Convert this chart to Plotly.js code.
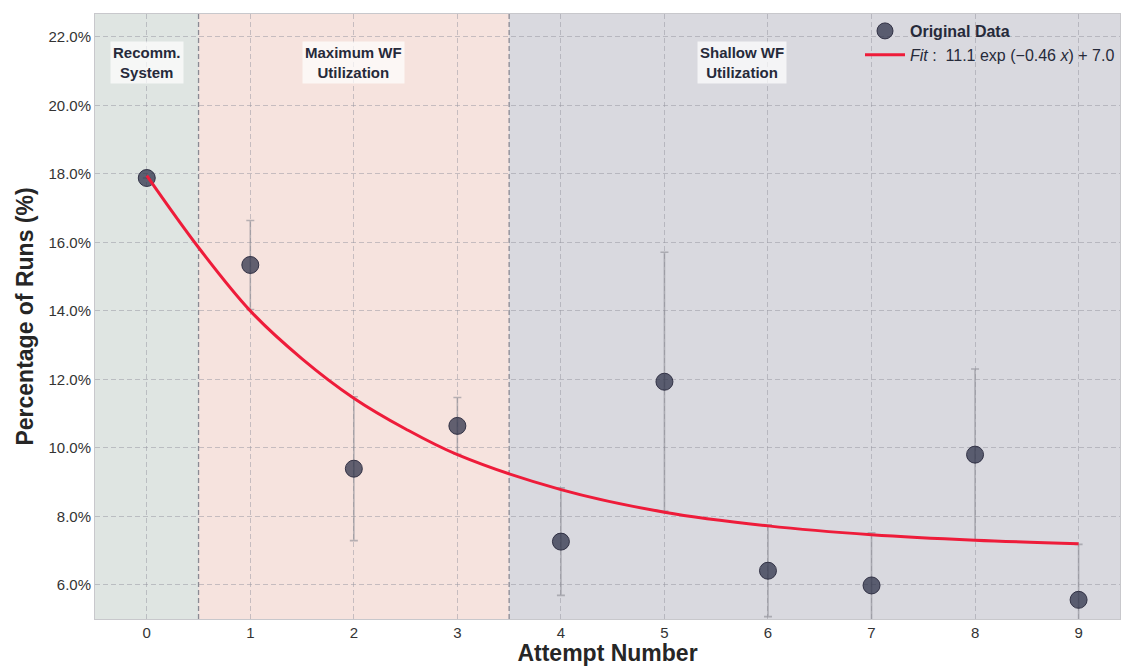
<!DOCTYPE html>
<html><head><meta charset="utf-8">
<script src="https://cdn.plot.ly/plotly-3.0.1.min.js"></script>
<style>body{margin:0;background:#fff}#c{width:1121px;height:666px}</style>
</head><body><div id="c"></div>
<script>
const attempts = [0,1,2,3,4,5,6,7,8,9];
const pct = [17.88,15.34,9.39,10.64,7.26,11.93,6.41,5.98,9.80,5.56];
const err = [0,1.30,2.10,0.83,1.57,3.78,1.34,1.54,2.50,1.62];
const fitX = [0,0.5,1,1.5,2,2.5,3,4,5,6,7,8,9];
const fitY = [17.95,15.85,14.0,12.6,11.45,10.55,9.8,8.78,8.12,7.72,7.46,7.3,7.2];
const phases = [
  {label:'Recomm.<br>System', x0:-0.5, x1:0.5, cx:0, color:'#dfe5e2'},
  {label:'Maximum WF<br>Utilization', x0:0.5, x1:3.5, cx:2, color:'#f6e3de'},
  {label:'Shallow WF<br>Utilization', x0:3.5, x1:9.45, cx:5.75, color:'#d9d9df'}
];
const boundaries = [0.5, 3.5];
const font = 'Liberation Sans, Arial, sans-serif';

const shapes = phases.map(p=>({type:'rect',xref:'x',yref:'paper',x0:p.x0,x1:p.x1,y0:0,y1:1,fillcolor:p.color,line:{width:0},layer:'below'}));
boundaries.forEach(b=>shapes.push({type:'line',xref:'x',yref:'paper',x0:b,x1:b,y0:0,y1:1,line:{color:'#8a8a94',width:1.3,dash:'5px,3px'},layer:'below'}));

const annotations = phases.map(p=>({x:p.cx,y:21.25,xref:'x',yref:'y',text:'<b>'+p.label+'</b>',showarrow:false,
  font:{family:font,size:15,color:'#262a3a'},bgcolor:'rgba(255,255,255,0.7)',borderpad:2,align:'center'}));

const data = [
  {x:attempts,y:pct,type:'scatter',mode:'markers',name:'<b>Original Data</b>',
   marker:{size:17,color:'rgba(45,48,72,0.74)',line:{color:'rgba(40,40,60,0.9)',width:1}},
   error_y:{type:'data',array:err,visible:true,color:'rgba(140,140,148,0.6)',thickness:1.6,width:4}},
  {x:fitX,y:fitY,type:'scatter',mode:'lines',name:'<i>Fit</i> :  11.1 exp (−0.46 <i>x</i>) + 7.0',
   line:{color:'#ee1c3a',width:3,shape:'spline'}}
];

const layout = {
  width:1121,height:666,
  margin:{l:95,r:1,t:14,b:47},
  paper_bgcolor:'#ffffff',plot_bgcolor:'#e6e6ea',
  font:{family:font,color:'#333'},
  showlegend:true,
  legend:{x:1,xanchor:'right',y:1.0,yanchor:'top',bgcolor:'rgba(0,0,0,0)',font:{family:font,size:16,color:'#262a3a'},itemwidth:40,tracegroupgap:0},
  xaxis:{range:[-0.5,9.4],tickmode:'array',tickvals:attempts,ticktext:attempts.map(String),
    showgrid:true,gridcolor:'rgba(150,150,160,0.5)',griddash:'5px,3px',gridwidth:1,zeroline:false,
    tickfont:{size:15,color:'#333'},ticks:'',
    showline:true,linecolor:'#c8c8cc',mirror:true,
    title:{text:'<b>Attempt Number</b>',font:{size:23,color:'#262626'},standoff:4}},
  yaxis:{range:[5.0,22.67],tick0:6,dtick:2,tickformat:'.1f',ticksuffix:'%',
    showgrid:true,gridcolor:'rgba(150,150,160,0.5)',griddash:'5px,3px',gridwidth:1,zeroline:false,
    tickfont:{size:15,color:'#333'},ticks:'',
    showline:true,linecolor:'#c8c8cc',mirror:true,
    title:{text:'<b>Percentage of Runs (%)</b>',font:{size:23,color:'#262626'},standoff:8}},
  shapes:shapes,annotations:annotations
};
Plotly.newPlot('c',data,layout,{displayModeBar:false,staticPlot:true});
</script></body></html>
